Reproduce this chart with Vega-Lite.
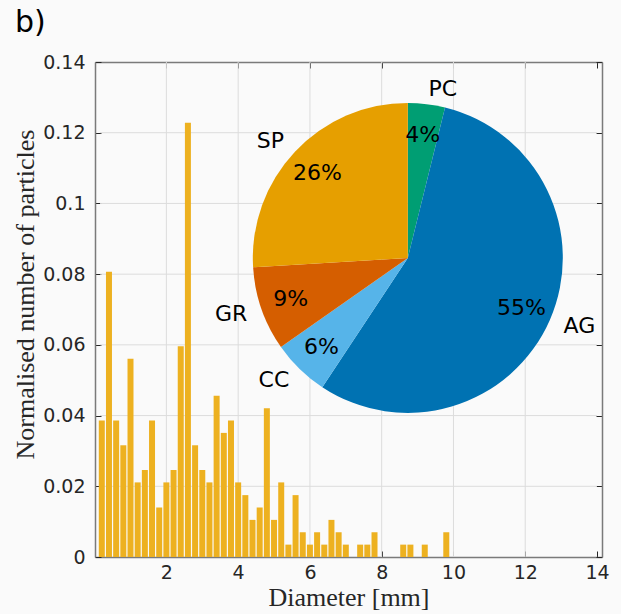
{
  "$schema": "https://vega.github.io/schema/vega-lite/v6.json",
  "width": 507,
  "height": 495,
  "autosize": {"type": "none"},
  "padding": {"left": 95, "top": 62, "right": 19, "bottom": 57},
  "background": "#fafafa",
  "title": {"text": "b)", "anchor": "start", "frame": "group", "dx": -80, "offset": -9, "baseline": "alphabetic", "font": "DejaVu Sans", "fontSize": 30, "fontWeight": "normal", "color": "#000000"},
  "config": {
    "view": {"stroke": null},
    "font": "DejaVu Sans",
    "axis": {"zindex": 1, "domainColor": "#7a7a7a", "domainWidth": 1.5, "tickColor": "#262626", "tickWidth": 1, "tickSize": -6, "labelFont": "DejaVu Sans", "labelFontSize": 19, "labelColor": "#262626", "titleFont": "Liberation Serif", "titleFontSize": 26, "titleFontWeight": "normal", "titleColor": "#262626", "labelFlush": false, "labelOverlap": false, "grid": false}
  },
  "datasets": {
    "hist": [
      {"d": 0.2, "v": 0.0386}, {"d": 0.4, "v": 0.0807}, {"d": 0.6, "v": 0.0386}, {"d": 0.8, "v": 0.0316},
      {"d": 1.0, "v": 0.0561}, {"d": 1.2, "v": 0.0211}, {"d": 1.4, "v": 0.0246}, {"d": 1.6, "v": 0.0386},
      {"d": 1.8, "v": 0.0140}, {"d": 2.0, "v": 0.0211}, {"d": 2.2, "v": 0.0246}, {"d": 2.4, "v": 0.0596},
      {"d": 2.6, "v": 0.1228}, {"d": 2.8, "v": 0.0316}, {"d": 3.0, "v": 0.0246}, {"d": 3.2, "v": 0.0211},
      {"d": 3.4, "v": 0.0456}, {"d": 3.6, "v": 0.0351}, {"d": 3.8, "v": 0.0386}, {"d": 4.0, "v": 0.0211},
      {"d": 4.2, "v": 0.0175}, {"d": 4.4, "v": 0.0105}, {"d": 4.6, "v": 0.0140}, {"d": 4.8, "v": 0.0421},
      {"d": 5.0, "v": 0.0105}, {"d": 5.2, "v": 0.0211}, {"d": 5.4, "v": 0.0035}, {"d": 5.6, "v": 0.0175},
      {"d": 5.8, "v": 0.0070}, {"d": 6.0, "v": 0.0035}, {"d": 6.2, "v": 0.0070}, {"d": 6.4, "v": 0.0035},
      {"d": 6.6, "v": 0.0105}, {"d": 6.8, "v": 0.0070}, {"d": 7.0, "v": 0.0035}, {"d": 7.4, "v": 0.0035},
      {"d": 7.6, "v": 0.0035}, {"d": 7.8, "v": 0.0070}, {"d": 8.6, "v": 0.0035}, {"d": 8.8, "v": 0.0035},
      {"d": 9.2, "v": 0.0035}, {"d": 9.8, "v": 0.0070}
    ],
    "pie": [
      {"name": "PC", "n": 11, "k": 1, "pct": "4%"},
      {"name": "AG", "n": 158, "k": 2, "pct": "55%"},
      {"name": "CC", "n": 17, "k": 3, "pct": "6%"},
      {"name": "GR", "n": 25, "k": 4, "pct": "9%"},
      {"name": "SP", "n": 74, "k": 5, "pct": "26%"}
    ],
    "gx": [{"g": 2}, {"g": 4}, {"g": 6}, {"g": 8}, {"g": 10}, {"g": 12}],
    "gy": [{"h": 0.02}, {"h": 0.04}, {"h": 0.06}, {"h": 0.08}, {"h": 0.1}, {"h": 0.12}]
  },
  "layer": [
    {
      "data": {"name": "gx"},
      "mark": {"type": "rule", "color": "#dcdcdc", "strokeWidth": 1},
      "encoding": {
        "x": {"field": "g", "type": "quantitative", "scale": {"domain": [0.15, 14], "nice": false, "zero": false},
              "axis": {"orient": "top", "values": [2, 4, 6, 8, 10, 12, 14], "labels": false, "title": null}},
        "y": {"datum": 0, "type": "quantitative", "scale": {"domain": [0, 0.14], "nice": false, "zero": false}, "axis": null},
        "y2": {"datum": 0.14}
      }
    },
    {
      "data": {"name": "gy"},
      "mark": {"type": "rule", "color": "#dcdcdc", "strokeWidth": 1},
      "encoding": {
        "y": {"field": "h", "type": "quantitative", "scale": {"domain": [0, 0.14], "nice": false, "zero": false},
              "axis": {"orient": "right", "values": [0, 0.02, 0.04, 0.06, 0.08, 0.1, 0.12, 0.14], "labels": false, "title": null}},
        "x": {"datum": 0.15, "type": "quantitative", "scale": {"domain": [0.15, 14], "nice": false, "zero": false}, "axis": null},
        "x2": {"datum": 14}
      }
    },
    {
      "data": {"name": "hist"},
      "mark": {"type": "bar", "color": "#EDB120", "size": 6, "clip": true},
      "encoding": {
        "x": {"field": "d", "type": "quantitative", "scale": {"domain": [0.15, 14], "nice": false, "zero": false},
              "axis": {"orient": "bottom", "values": [2, 4, 6, 8, 10, 12, 14], "labelPadding": 12, "title": "Diameter [mm]", "titleY": 48, "titleBaseline": "alphabetic"}},
        "y": {"field": "v", "type": "quantitative", "scale": {"domain": [0, 0.14], "nice": false, "zero": false},
              "axis": {"orient": "left", "values": [0, 0.02, 0.04, 0.06, 0.08, 0.1, 0.12, 0.14], "format": ".2~f", "labelPadding": 16, "title": "Normalised number of particles", "titleX": -62, "titleY": 232, "titleAngle": -90, "titleAlign": "center", "titleBaseline": "alphabetic"}}
      }
    },
    {
      "data": {"name": "pie"},
      "mark": {"type": "arc", "radius": 155},
      "encoding": {
        "x": {"datum": 8.728, "type": "quantitative", "scale": {"domain": [0.15, 14], "nice": false, "zero": false}, "axis": null},
        "y": {"datum": 0.0846, "type": "quantitative", "scale": {"domain": [0, 0.14], "nice": false, "zero": false}, "axis": null},
        "theta": {"field": "n", "type": "quantitative", "stack": true},
        "order": {"field": "k", "type": "quantitative"},
        "color": {"field": "name", "type": "nominal", "scale": {"domain": ["PC", "AG", "CC", "GR", "SP"], "range": ["#009E73", "#0072B2", "#56B4E9", "#D55E00", "#E69F00"]}, "legend": null}
      }
    },
    {
      "data": {"name": "pie"},
      "mark": {"type": "text", "radius": 124, "fontSize": 22, "font": "DejaVu Sans", "color": "#000000", "align": "center", "baseline": "middle"},
      "encoding": {
        "x": {"datum": 8.728, "type": "quantitative", "scale": {"domain": [0.15, 14], "nice": false, "zero": false}, "axis": null},
        "y": {"datum": 0.0846, "type": "quantitative", "scale": {"domain": [0, 0.14], "nice": false, "zero": false}, "axis": null},
        "theta": {"field": "n", "type": "quantitative", "stack": true},
        "order": {"field": "k", "type": "quantitative"},
        "detail": {"field": "name", "type": "nominal"},
        "text": {"field": "pct", "type": "nominal"}
      }
    },
    {
      "data": {"name": "pie"},
      "mark": {"type": "text", "radius": 170, "fontSize": 22, "font": "DejaVu Sans", "color": "#000000", "align": "left", "baseline": "middle"},
      "encoding": {
        "x": {"datum": 8.728, "type": "quantitative", "scale": {"domain": [0.15, 14], "nice": false, "zero": false}, "axis": null},
        "y": {"datum": 0.0846, "type": "quantitative", "scale": {"domain": [0, 0.14], "nice": false, "zero": false}, "axis": null},
        "theta": {"field": "n", "type": "quantitative", "stack": true},
        "order": {"field": "k", "type": "quantitative"},
        "detail": {"field": "name", "type": "nominal"},
        "text": {"condition": {"test": "datum.n_start + datum.n_end < 285", "field": "name", "type": "nominal"}, "value": ""}
      }
    },
    {
      "data": {"name": "pie"},
      "mark": {"type": "text", "radius": 170, "fontSize": 22, "font": "DejaVu Sans", "color": "#000000", "align": "right", "baseline": "middle"},
      "encoding": {
        "x": {"datum": 8.728, "type": "quantitative", "scale": {"domain": [0.15, 14], "nice": false, "zero": false}, "axis": null},
        "y": {"datum": 0.0846, "type": "quantitative", "scale": {"domain": [0, 0.14], "nice": false, "zero": false}, "axis": null},
        "theta": {"field": "n", "type": "quantitative", "stack": true},
        "order": {"field": "k", "type": "quantitative"},
        "detail": {"field": "name", "type": "nominal"},
        "text": {"condition": {"test": "datum.n_start + datum.n_end >= 285", "field": "name", "type": "nominal"}, "value": ""}
      }
    }
  ],
  "resolve": {"axis": {"x": "independent", "y": "independent"}}
}
